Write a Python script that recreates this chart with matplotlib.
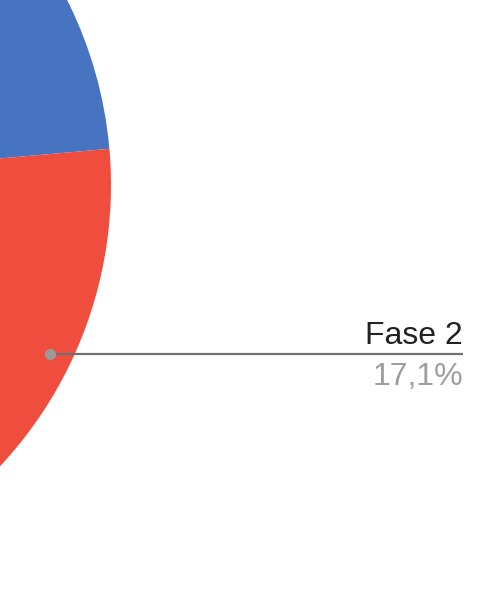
import numpy as np
import matplotlib.pyplot as plt

# slice data (only Fase 1 and Fase 2 are visible in the crop)
labels = ['Fase 1', 'Fase 2', 'Fase 3', 'Fase 4']
values = [23.6, 17.1, 31.2, 28.1]
colors = ['#4774c0', '#ef4e3e', '#f6b41f', '#3aa55a']
shown = 'Fase 2'

W, H = 478, 606
fig = plt.figure(figsize=(W / 100, H / 100), dpi=100)
ax = fig.add_axes([0, 0, 1, 1])

# pie centre lies off the left edge of the image (pixel coords, y up)
cx, cy, r = -301, H - 185, 412
ax.pie(values, colors=colors, startangle=90, counterclock=False,
       center=(cx, cy), radius=r, wedgeprops=dict(linewidth=0))

ax.set_xlim(0, W)
ax.set_ylim(0, H)
ax.set_aspect('auto')
ax.axis('off')

# label anchor at the middle of the shown slice
i = labels.index(shown)
total = sum(values)
mid = 90 - 360 * (sum(values[:i]) + values[i] / 2) / total
ax_x = cx + 0.945 * r * np.cos(np.radians(mid))
ax_y = cy + 0.945 * r * np.sin(np.radians(mid))

x_end = 463
ax.plot([ax_x, x_end], [ax_y, ax_y], color='#6f6f6f', lw=1.6,
        solid_capstyle='butt', zorder=3)
ax.plot(ax_x, ax_y, 'o', ms=8, color='#9a9a9a', mec='none', zorder=4)

pct = f'{values[i] / total * 100:.1f}%'.replace('.', ',')
ax.text(x_end, ax_y + 10, shown, ha='right', va='baseline',
        fontsize=23, family='Liberation Sans', color='#222222')
ax.text(x_end, ax_y - 31, pct, ha='right', va='baseline',
        fontsize=23, family='Liberation Sans', color='#9e9e9e')

fig.savefig('out.png', dpi=100)
